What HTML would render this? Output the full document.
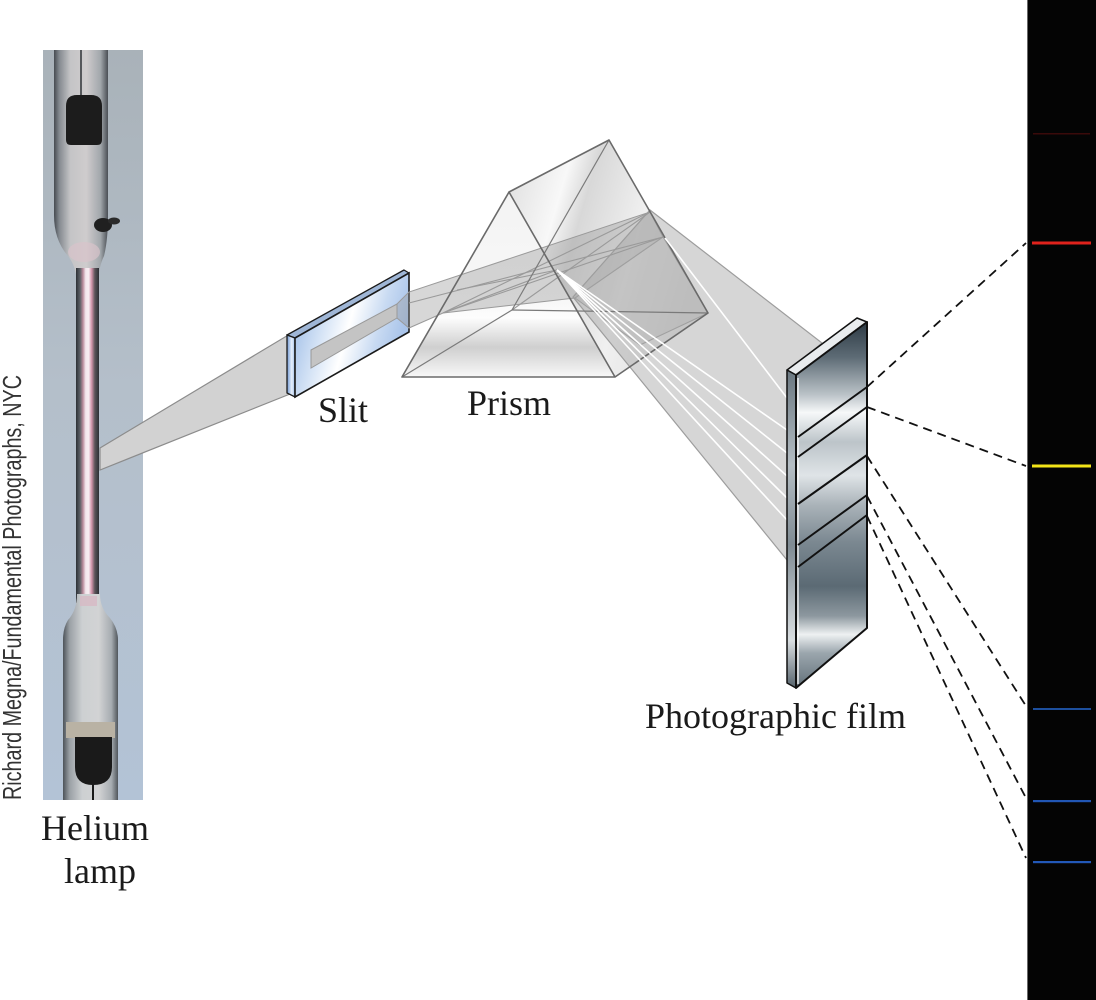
<!DOCTYPE html>
<html><head><meta charset="utf-8"><style>
html,body{margin:0;padding:0;background:#fff;}
svg{display:block;}
</style></head><body>
<svg width="1096" height="1000" viewBox="0 0 1096 1000" xmlns="http://www.w3.org/2000/svg">
<defs>
<linearGradient id="bg" x1="0" y1="0" x2="0" y2="1">
<stop offset="0" stop-color="#a9b2b9"/><stop offset="0.45" stop-color="#b4bfca"/><stop offset="1" stop-color="#b3c3d6"/>
</linearGradient>
<linearGradient id="glassH" x1="0" y1="0" x2="1" y2="0">
<stop offset="0" stop-color="#464b51"/><stop offset="0.1" stop-color="#858a90"/><stop offset="0.3" stop-color="#c4c4c6"/><stop offset="0.6" stop-color="#cfcccd"/><stop offset="0.86" stop-color="#a2a7ac"/><stop offset="1" stop-color="#4a4f55"/>
</linearGradient>
<linearGradient id="glassB" x1="0" y1="0" x2="1" y2="0">
<stop offset="0" stop-color="#4d5359"/><stop offset="0.12" stop-color="#9aa0a5"/><stop offset="0.35" stop-color="#cdd0d2"/><stop offset="0.65" stop-color="#d2d3d4"/><stop offset="0.88" stop-color="#a6acb1"/><stop offset="1" stop-color="#50565c"/>
</linearGradient>
<linearGradient id="cap" x1="0" y1="0" x2="1" y2="0">
<stop offset="0" stop-color="#2c3035"/><stop offset="0.18" stop-color="#5d6268"/><stop offset="0.3" stop-color="#b88a9a"/><stop offset="0.42" stop-color="#f3e6ec"/><stop offset="0.55" stop-color="#f7eef2"/><stop offset="0.68" stop-color="#d294aa"/><stop offset="0.82" stop-color="#5b5459"/><stop offset="1" stop-color="#2c3035"/>
</linearGradient>
<linearGradient id="slitF" x1="0" y1="0" x2="1" y2="0.3">
<stop offset="0" stop-color="#8fb2e2"/><stop offset="0.35" stop-color="#d6e4f6"/><stop offset="0.55" stop-color="#ffffff"/><stop offset="0.8" stop-color="#c8daf2"/><stop offset="1" stop-color="#a9c4ea"/>
</linearGradient>
<linearGradient id="slitL" x1="0" y1="0" x2="1" y2="0">
<stop offset="0" stop-color="#6f98d4"/><stop offset="0.6" stop-color="#e8f0fb"/><stop offset="1" stop-color="#9bbbe6"/>
</linearGradient>
<linearGradient id="prR" x1="0" y1="0" x2="1" y2="0.35">
<stop offset="0" stop-color="#dcdcdc"/><stop offset="0.3" stop-color="#f8f8f8"/><stop offset="0.42" stop-color="#d8d8d8"/><stop offset="0.7" stop-color="#f0f0f0"/><stop offset="1" stop-color="#e2e2e2"/>
</linearGradient>
<linearGradient id="prF" gradientUnits="userSpaceOnUse" x1="0" y1="192" x2="0" y2="377">
<stop offset="0" stop-color="#f3f3f3"/><stop offset="0.6" stop-color="#f8f8f8"/><stop offset="0.68" stop-color="#fdfdfd"/><stop offset="0.84" stop-color="#cfcfcf"/><stop offset="1" stop-color="#f8f8f8"/>
</linearGradient>
<linearGradient id="film" gradientUnits="userSpaceOnUse" x1="0" y1="320" x2="0" y2="690">
<stop offset="0" stop-color="#2a3741"/><stop offset="0.1" stop-color="#5d6b75"/><stop offset="0.2" stop-color="#b9c1c6"/><stop offset="0.25" stop-color="#f6f8f9"/><stop offset="0.33" stop-color="#bcc4c9"/><stop offset="0.42" stop-color="#dfe4e7"/><stop offset="0.5" stop-color="#aab3b9"/><stop offset="0.6" stop-color="#7b8891"/><stop offset="0.72" stop-color="#5b6a74"/><stop offset="0.8" stop-color="#8d989f"/><stop offset="0.85" stop-color="#eef1f2"/><stop offset="0.9" stop-color="#9ba6ad"/><stop offset="1" stop-color="#5e6c76"/>
</linearGradient>
<linearGradient id="filmL" gradientUnits="userSpaceOnUse" x1="0" y1="370" x2="0" y2="688">
<stop offset="0" stop-color="#6a7780"/><stop offset="0.3" stop-color="#b5bec4"/><stop offset="0.55" stop-color="#7f8b93"/><stop offset="0.85" stop-color="#d9dee1"/><stop offset="1" stop-color="#56636c"/>
</linearGradient>
</defs>

<!-- Photo -->
<rect x="43" y="50" width="100" height="750" fill="url(#bg)"/>
<path d="M54,50 L54,215 Q54,240 68,256 Q76,266 77,282 L98,282 Q99,266 104,256 Q108,240 108,215 L108,50 Z" fill="url(#glassH)"/>
<ellipse cx="84" cy="252" rx="16" ry="10" fill="#d9c3cb" opacity="0.7"/>
<rect x="76" y="268" width="23" height="335" fill="url(#cap)"/>
<path d="M77,594 Q77,610 68,620 Q63,628 63,640 L63,800 L118,800 L118,640 Q118,628 110,618 Q100,608 100,594 Z" fill="url(#glassB)"/>
<rect x="80" y="596" width="17" height="10" fill="#d7b9c4" opacity="0.8"/>
<rect x="66" y="722" width="49" height="16" fill="#b9b2a4"/>
<line x1="81" y1="50" x2="81" y2="96" stroke="#2e3236" stroke-width="1.5"/>
<path d="M66,106 Q66,95 77,95 L91,95 Q102,95 102,106 L102,140 Q102,145 97,145 L71,145 Q66,145 66,140 Z" fill="#1c1c1c"/>
<ellipse cx="103" cy="225" rx="9" ry="7" fill="#202020"/>
<ellipse cx="114" cy="221" rx="6" ry="3.5" fill="#2a2a2a"/>
<path d="M75,737 L112,737 L112,767 Q112,785 93,785 Q75,785 75,767 Z" fill="#1a1a1a"/>
<line x1="93" y1="783" x2="93" y2="800" stroke="#1a1a1a" stroke-width="2"/>

<text transform="translate(21,800) rotate(-90)" font-family="'Liberation Sans Narrow','Liberation Sans',sans-serif" font-size="26" fill="#333" textLength="425" lengthAdjust="spacingAndGlyphs">Richard Megna/Fundamental Photographs, NYC</text>

<polygon points="100,448 290,334 290,394 100,470" fill="#d2d2d2" stroke="#8c8c8c" stroke-width="1.2"/>

<!-- slit -->
<polygon points="287,335 404,270 409,273 295,338" fill="#9fb6d6" stroke="#1a1a1a" stroke-width="1.3" stroke-linejoin="round"/>
<polygon points="287,335 295,338 295,397 287,393" fill="url(#slitL)" stroke="#1a1a1a" stroke-width="1.3"/>
<polygon points="295,338 409,273 409,332 295,397" fill="url(#slitF)" stroke="#1a1a1a" stroke-width="1.6"/>
<polygon points="311,350 397,304 397,318 311,368" fill="#c4c4c4" stroke="#999" stroke-width="1"/>

<!-- prism faces -->
<polygon points="509,192 609,140 708,313 615,377" fill="url(#prR)"/>
<polygon points="509,192 402,377 615,377" fill="url(#prF)"/>

<polygon points="397,304 409,292 650,212 663,237 575,298 443,313 409,328 397,318" fill="rgba(150,150,150,0.38)" stroke="#9a9a9a" stroke-width="1"/>
<polygon points="650,210 822,343 787,372 787,560 573,297" fill="rgba(165,165,165,0.45)" stroke="#9d9d9d" stroke-width="1.2"/>
<polygon points="575,298 663,237 708,313 640,345" fill="rgba(140,140,140,0.15)" stroke="#a0a0a0" stroke-width="1"/>

<g stroke="#9a9a9a" stroke-width="1.1" fill="none">
<line x1="443" y1="313" x2="650" y2="212"/>
<line x1="443" y1="313" x2="663" y2="237"/>
<line x1="409" y1="303" x2="663" y2="237"/>
<line x1="512" y1="310" x2="650" y2="212"/>
<line x1="457" y1="290" x2="557" y2="270"/>
<line x1="443" y1="313" x2="557" y2="270"/>
</g>

<g stroke="#7a7a7a" stroke-width="1.2" fill="none">
<line x1="402" y1="377" x2="512" y2="310"/>
<line x1="512" y1="310" x2="708" y2="313"/>
<line x1="609" y1="140" x2="512" y2="310"/>
</g>
<g stroke="#6a6a6a" stroke-width="1.6" fill="none" stroke-linejoin="round">
<polygon points="509,192 402,377 615,377"/>
<polyline points="509,192 609,140 708,313 615,377"/>
</g>

<g stroke="#ffffff" stroke-width="1.6">
<line x1="557" y1="270" x2="787" y2="430"/>
<line x1="557" y1="270" x2="787" y2="453"/>
<line x1="557" y1="270" x2="787" y2="476"/>
<line x1="557" y1="270" x2="787" y2="498"/>
<line x1="557" y1="270" x2="787" y2="520"/>
<line x1="665" y1="238" x2="787" y2="398"/>
</g>

<!-- film -->
<polygon points="787,370 857,318 867,322 796,375" fill="#e9ecee" stroke="#111" stroke-width="1.5" stroke-linejoin="round"/>
<polygon points="787,370 796,375 796,688 787,683" fill="url(#filmL)" stroke="#111" stroke-width="1.5" stroke-linejoin="round"/>
<polygon points="796,375 867,322 867,628 796,688" fill="url(#film)" stroke="#111" stroke-width="2" stroke-linejoin="round"/>
<line x1="798" y1="378" x2="798" y2="684" stroke="#ffffff" stroke-width="1.5" opacity="0.85"/>
<g stroke="#111" stroke-width="2">
<line x1="798" y1="437" x2="867" y2="387"/>
<line x1="798" y1="457" x2="867" y2="407"/>
<line x1="798" y1="504" x2="867" y2="455"/>
<line x1="798" y1="545" x2="867" y2="495"/>
<line x1="798" y1="567" x2="867" y2="515"/>
</g>

<g stroke="#111" stroke-width="1.8" stroke-dasharray="9 6" fill="none">
<line x1="867" y1="387" x2="1026" y2="243"/>
<line x1="867" y1="407" x2="1026" y2="466"/>
<line x1="867" y1="456" x2="1026" y2="706"/>
<line x1="867" y1="496" x2="1026" y2="798"/>
<line x1="867" y1="516" x2="1026" y2="858"/>
</g>

<rect x="1027" y="0" width="69" height="1000" fill="#040404"/>
<line x1="1027.5" y1="0" x2="1027.5" y2="1000" stroke="#6a6a6a" stroke-width="1"/>
<rect x="1033" y="133" width="57" height="1.5" fill="#3a0a0a"/>
<rect x="1032" y="241.5" width="59" height="3" fill="#e0221c"/>
<rect x="1032" y="464.5" width="59" height="3" fill="#f2e418"/>
<rect x="1033" y="708" width="58" height="2" fill="#1d4f9e"/>
<rect x="1033" y="800" width="58" height="2.2" fill="#2156b4"/>
<rect x="1033" y="861" width="58" height="2.2" fill="#2258b8"/>

<g font-family="'Liberation Serif',serif" font-size="36" fill="#1a1a1a">
<text x="95" y="840" text-anchor="middle">Helium</text>
<text x="100" y="883" text-anchor="middle">lamp</text>
<text x="318" y="422">Slit</text>
<text x="467" y="415">Prism</text>
<text x="645" y="728">Photographic film</text>
</g>
</svg>
</body></html>
